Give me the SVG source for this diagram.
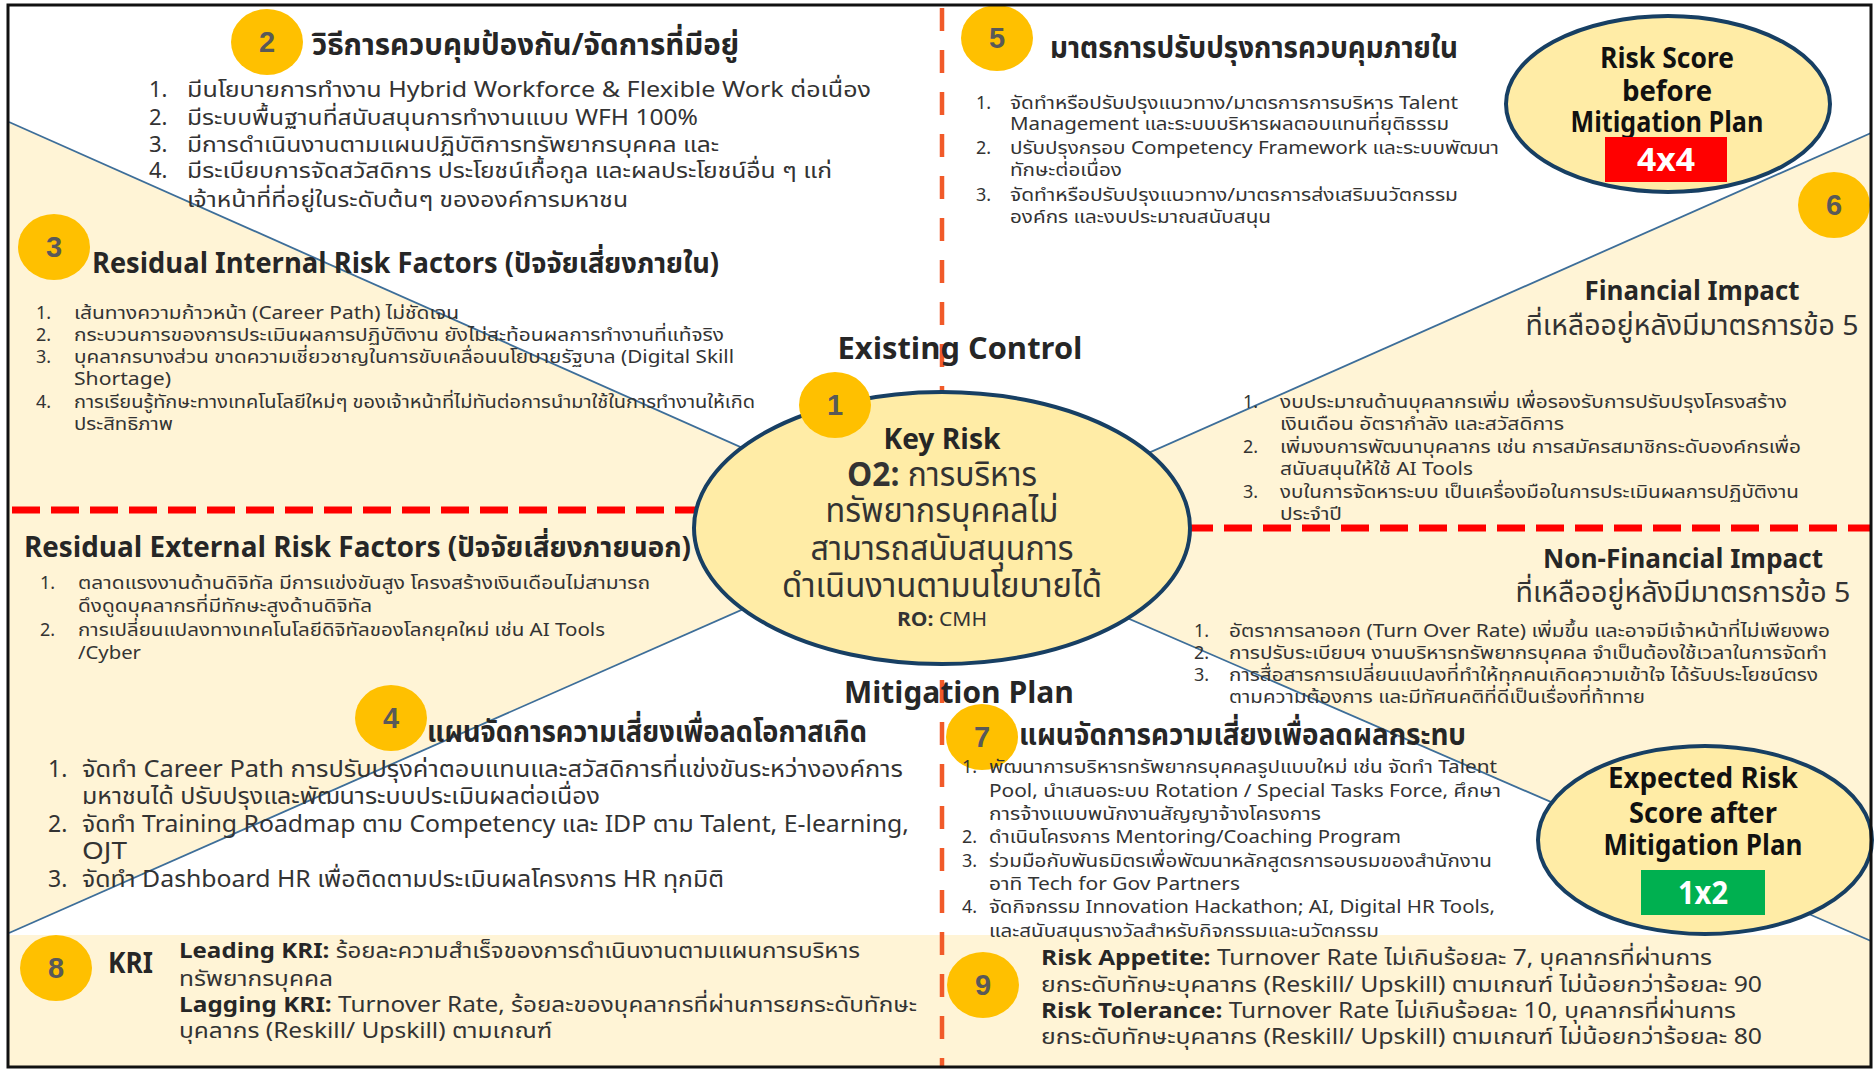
<svg xmlns="http://www.w3.org/2000/svg" width="1875" height="1070" viewBox="0 0 1875 1070">
<defs>
<style>
text{font-family:"Noto Sans Thai","Noto Sans","Liberation Sans",sans-serif;fill:#333333}
.b{font-weight:bold}
.h{font-weight:bold;fill:#262626}
.mid{text-anchor:middle}
.badge{fill:#FFC000}
.bn{font-family:"Liberation Sans Narrow","Liberation Sans",sans-serif;font-weight:bold;font-size:29px;fill:#595959;text-anchor:middle}
.s18{font-size:18px}
.s22{font-size:22px}
.s23{font-size:23px}
.h28{font-size:30px}
.bk{fill:#111111;font-weight:bold;text-anchor:middle;font-size:28px}
.wt{fill:#ffffff;font-weight:bold;text-anchor:middle;font-size:32px}
.diag{stroke:#3D6E99;stroke-width:1.8;fill:none}
.vdash{stroke:#F15A29;stroke-width:4.5;stroke-dasharray:23 19;fill:none}
.hdash{stroke:#FF0000;stroke-width:7;stroke-dasharray:28 11;fill:none}
.circ{fill:#FFECA6;stroke:#173F63;stroke-width:4}
</style>
</defs>
<rect x="0" y="0" width="1875" height="1070" fill="#ffffff"/>
<g id="background">
<polygon points="9,122 943,537 943,521 9,933" fill="#FFF4D6"/>
<polygon points="1871,133 943,544 943,538 1871,941" fill="#FFF4D6"/>
<rect x="9" y="935" width="1862" height="133" fill="#FFF4D6"/>
</g>
<g id="connectors">
<line class="diag" x1="9" y1="122" x2="943" y2="537"/>
<line class="diag" x1="1871" y1="133" x2="943" y2="544"/>
<line class="diag" x1="9" y1="933" x2="943" y2="521"/>
<line class="diag" x1="943" y1="538" x2="1871" y2="941"/>
<line class="vdash" x1="942" y1="8" x2="942" y2="1068"/>
<line class="hdash" x1="12" y1="510" x2="700" y2="510"/>
<line class="hdash" x1="1185" y1="528" x2="1870" y2="528"/>
</g>
<g id="node1">
<ellipse class="circ" cx="942" cy="528" rx="248" ry="136"/>
<ellipse class="badge" cx="835" cy="405" rx="36" ry="33"/>
<text class="bn" x="835" y="415">1</text>
<text class="h mid" x="942" y="449" font-size="29" textLength="117" lengthAdjust="spacingAndGlyphs">Key Risk</text>
<text class="mid" x="942" y="486" font-size="34" fill="#222" textLength="190" lengthAdjust="spacingAndGlyphs"><tspan font-weight="bold">O2:</tspan> การบริหาร</text>
<text class="mid" x="942" y="522" font-size="34" textLength="233" lengthAdjust="spacingAndGlyphs">ทรัพยากรบุคคลไม่</text>
<text class="mid" x="942" y="560" font-size="34" textLength="263" lengthAdjust="spacingAndGlyphs">สามารถสนับสนุนการ</text>
<text class="mid" x="942" y="597" font-size="34" textLength="320" lengthAdjust="spacingAndGlyphs">ดำเนินงานตามนโยบายได้</text>
<text class="mid" x="942" y="626" font-size="20" fill="#404040" textLength="90" lengthAdjust="spacingAndGlyphs"><tspan font-weight="bold">RO:</tspan> CMH</text>
</g>
<g id="label-existing">
<text class="h mid" x="960" y="359" font-size="31" textLength="245" lengthAdjust="spacingAndGlyphs">Existing Control</text>
</g>
<g id="label-mitigation">
<text class="h mid" x="959" y="703" font-size="31" textLength="230" lengthAdjust="spacingAndGlyphs">Mitigation Plan</text>
</g>
<g id="node2">
<ellipse class="badge" cx="267" cy="42" rx="36" ry="33"/>
<text class="bn" x="267" y="52">2</text>
<text class="h h28" x="312" y="55" textLength="427" lengthAdjust="spacingAndGlyphs">วิธีการควบคุมป้องกัน/จัดการที่มีอยู่</text>
<g class="s22">
<text x="149" y="97">1.</text><text x="187" y="97" textLength="684" lengthAdjust="spacingAndGlyphs">มีนโยบายการทำงาน Hybrid Workforce &amp; Flexible Work ต่อเนื่อง</text>
<text x="149" y="125">2.</text><text x="187" y="125" textLength="511" lengthAdjust="spacingAndGlyphs">มีระบบพื้นฐานที่สนับสนุนการทำงานแบบ WFH 100%</text>
<text x="149" y="152">3.</text><text x="187" y="152" textLength="532" lengthAdjust="spacingAndGlyphs">มีการดำเนินงานตามแผนปฏิบัติการทรัพยากรบุคคล และ</text>
<text x="149" y="178">4.</text><text x="187" y="178" textLength="645" lengthAdjust="spacingAndGlyphs">มีระเบียบการจัดสวัสดิการ ประโยชน์เกื้อกูล และผลประโยชน์อื่น ๆ แก่</text>
<text x="187" y="207" textLength="441" lengthAdjust="spacingAndGlyphs">เจ้าหน้าที่ที่อยู่ในระดับต้นๆ ขององค์การมหาชน</text>
</g>
</g>
<g id="node3">
<ellipse class="badge" cx="54" cy="247" rx="36" ry="33"/>
<text class="bn" x="54" y="257">3</text>
<text class="h" x="92" y="273" font-size="28" textLength="627" lengthAdjust="spacingAndGlyphs">Residual Internal Risk Factors (ปัจจัยเสี่ยงภายใน)</text>
<g class="s18">
<text x="36" y="319">1.</text><text x="74" y="319" textLength="385" lengthAdjust="spacingAndGlyphs">เส้นทางความก้าวหน้า (Career Path) ไม่ชัดเจน</text>
<text x="36" y="341">2.</text><text x="74" y="341" textLength="650" lengthAdjust="spacingAndGlyphs">กระบวนการของการประเมินผลการปฏิบัติงาน ยังไม่สะท้อนผลการทำงานที่แท้จริง</text>
<text x="36" y="363">3.</text><text x="74" y="363" textLength="660" lengthAdjust="spacingAndGlyphs">บุคลากรบางส่วน ขาดความเชี่ยวชาญในการขับเคลื่อนนโยบายรัฐบาล (Digital Skill</text>
<text x="74" y="385" textLength="97" lengthAdjust="spacingAndGlyphs">Shortage)</text>
<text x="36" y="408">4.</text><text x="74" y="408" textLength="681" lengthAdjust="spacingAndGlyphs">การเรียนรู้ทักษะทางเทคโนโลยีใหม่ๆ ของเจ้าหน้าที่ไม่ทันต่อการนำมาใช้ในการทำงานให้เกิด</text>
<text x="74" y="430" textLength="99" lengthAdjust="spacingAndGlyphs">ประสิทธิภาพ</text>
</g>
</g>
<g id="node-external">
<text class="h" x="24" y="557" font-size="28" textLength="667" lengthAdjust="spacingAndGlyphs">Residual External Risk Factors (ปัจจัยเสี่ยงภายนอก)</text>
<g class="s18">
<text x="40" y="589">1.</text><text x="78" y="589" textLength="572" lengthAdjust="spacingAndGlyphs">ตลาดแรงงานด้านดิจิทัล มีการแข่งขันสูง โครงสร้างเงินเดือนไม่สามารถ</text>
<text x="78" y="612" textLength="294" lengthAdjust="spacingAndGlyphs">ดึงดูดบุคลากรที่มีทักษะสูงด้านดิจิทัล</text>
<text x="40" y="636">2.</text><text x="78" y="636" textLength="527" lengthAdjust="spacingAndGlyphs">การเปลี่ยนแปลงทางเทคโนโลยีดิจิทัลของโลกยุคใหม่ เช่น AI Tools</text>
<text x="78" y="659" textLength="63" lengthAdjust="spacingAndGlyphs">/Cyber</text>
</g>
</g>
<g id="node4">
<ellipse class="badge" cx="391" cy="718" rx="36" ry="33"/>
<text class="bn" x="391" y="728">4</text>
<text class="h h28" x="427" y="742" textLength="440" lengthAdjust="spacingAndGlyphs">แผนจัดการความเสี่ยงเพื่อลดโอกาสเกิด</text>
<g class="s23">
<text x="48" y="777">1.</text><text x="82" y="777" textLength="821" lengthAdjust="spacingAndGlyphs">จัดทำ Career Path การปรับปรุงค่าตอบแทนและสวัสดิการที่แข่งขันระหว่างองค์การ</text>
<text x="82" y="804" textLength="518" lengthAdjust="spacingAndGlyphs">มหาชนได้ ปรับปรุงและพัฒนาระบบประเมินผลต่อเนื่อง</text>
<text x="48" y="832">2.</text><text x="82" y="832" textLength="827" lengthAdjust="spacingAndGlyphs">จัดทำ Training Roadmap ตาม Competency และ IDP ตาม Talent, E-learning,</text>
<text x="82" y="859" textLength="45" lengthAdjust="spacingAndGlyphs">OJT</text>
<text x="48" y="887">3.</text><text x="82" y="887" textLength="642" lengthAdjust="spacingAndGlyphs">จัดทำ Dashboard HR เพื่อติดตามประเมินผลโครงการ HR ทุกมิติ</text>
</g>
</g>
<g id="node5">
<ellipse class="badge" cx="997" cy="38" rx="36" ry="33"/>
<text class="bn" x="997" y="48">5</text>
<text class="h h28" x="1050" y="58" textLength="408" lengthAdjust="spacingAndGlyphs">มาตรการปรับปรุงการควบคุมภายใน</text>
<g class="s18">
<text x="976" y="109">1.</text><text x="1010" y="109" textLength="448" lengthAdjust="spacingAndGlyphs">จัดทำหรือปรับปรุงแนวทาง/มาตรการการบริหาร Talent</text>
<text x="1010" y="130" textLength="439" lengthAdjust="spacingAndGlyphs">Management และระบบบริหารผลตอบแทนที่ยุติธรรม</text>
<text x="976" y="154">2.</text><text x="1010" y="154" textLength="489" lengthAdjust="spacingAndGlyphs">ปรับปรุงกรอบ Competency Framework และระบบพัฒนา</text>
<text x="1010" y="176" textLength="112" lengthAdjust="spacingAndGlyphs">ทักษะต่อเนื่อง</text>
<text x="976" y="201">3.</text><text x="1010" y="201" textLength="448" lengthAdjust="spacingAndGlyphs">จัดทำหรือปรับปรุงแนวทาง/มาตรการส่งเสริมนวัตกรรม</text>
<text x="1010" y="223" textLength="261" lengthAdjust="spacingAndGlyphs">องค์กร และงบประมาณสนับสนุน</text>
</g>
</g>
<g id="score-before">
<ellipse class="circ" cx="1668" cy="104" rx="162" ry="88"/>
<text class="bk" x="1667" y="68" textLength="134" lengthAdjust="spacingAndGlyphs">Risk Score</text>
<text class="bk" x="1667" y="101" textLength="90" lengthAdjust="spacingAndGlyphs">before</text>
<text class="bk" x="1667" y="132" textLength="193" lengthAdjust="spacingAndGlyphs">Mitigation Plan</text>
<rect x="1605" y="137" width="122" height="45" fill="#FF0000"/>
<text class="wt" x="1666" y="171" textLength="58" lengthAdjust="spacingAndGlyphs">4x4</text>
</g>
<g id="node6">
<ellipse class="badge" cx="1834" cy="205" rx="36" ry="33"/>
<text class="bn" x="1834" y="215">6</text>
<text class="h mid" x="1692" y="300" font-size="27" textLength="215" lengthAdjust="spacingAndGlyphs">Financial Impact</text>
<text class="mid" x="1692" y="335" font-size="28" textLength="333" lengthAdjust="spacingAndGlyphs">ที่เหลืออยู่หลังมีมาตรการข้อ 5</text>
<g class="s18">
<text x="1243" y="408">1.</text><text x="1280" y="408" textLength="507" lengthAdjust="spacingAndGlyphs">งบประมาณด้านบุคลากรเพิ่ม เพื่อรองรับการปรับปรุงโครงสร้าง</text>
<text x="1280" y="430" textLength="284" lengthAdjust="spacingAndGlyphs">เงินเดือน อัตรากำลัง และสวัสดิการ</text>
<text x="1243" y="453">2.</text><text x="1280" y="453" textLength="521" lengthAdjust="spacingAndGlyphs">เพิ่มงบการพัฒนาบุคลากร เช่น การสมัครสมาชิกระดับองค์กรเพื่อ</text>
<text x="1280" y="475" textLength="193" lengthAdjust="spacingAndGlyphs">สนับสนุนให้ใช้ AI Tools</text>
<text x="1243" y="498">3.</text><text x="1280" y="498" textLength="519" lengthAdjust="spacingAndGlyphs">งบในการจัดหาระบบ เป็นเครื่องมือในการประเมินผลการปฏิบัติงาน</text>
<text x="1280" y="520" textLength="62" lengthAdjust="spacingAndGlyphs">ประจำปี</text>
</g>
<text class="h mid" x="1683" y="568" font-size="27" textLength="280" lengthAdjust="spacingAndGlyphs">Non-Financial Impact</text>
<text class="mid" x="1683" y="602" font-size="28" textLength="335" lengthAdjust="spacingAndGlyphs">ที่เหลืออยู่หลังมีมาตรการข้อ 5</text>
<g class="s18">
<text x="1194" y="637">1.</text><text x="1229" y="637" textLength="601" lengthAdjust="spacingAndGlyphs">อัตราการลาออก (Turn Over Rate) เพิ่มขึ้น และอาจมีเจ้าหน้าที่ไม่เพียงพอ</text>
<text x="1194" y="659">2.</text><text x="1229" y="659" textLength="598" lengthAdjust="spacingAndGlyphs">การปรับระเบียบฯ งานบริหารทรัพยากรบุคคล จำเป็นต้องใช้เวลาในการจัดทำ</text>
<text x="1194" y="681">3.</text><text x="1229" y="681" textLength="589" lengthAdjust="spacingAndGlyphs">การสื่อสารการเปลี่ยนแปลงที่ทำให้ทุกคนเกิดความเข้าใจ ได้รับประโยชน์ตรง</text>
<text x="1229" y="703" textLength="416" lengthAdjust="spacingAndGlyphs">ตามความต้องการ และมีทัศนคติที่ดีเป็นเรื่องที่ท้าทาย</text>
</g>
</g>
<g id="node7">
<ellipse class="badge" cx="982" cy="737" rx="36" ry="33"/>
<text class="bn" x="982" y="747">7</text>
<text class="h h28" x="1019" y="745" textLength="447" lengthAdjust="spacingAndGlyphs">แผนจัดการความเสี่ยงเพื่อลดผลกระทบ</text>
<g class="s18">
<text x="962" y="773">1.</text><text x="989" y="773" textLength="508" lengthAdjust="spacingAndGlyphs">พัฒนาการบริหารทรัพยากรบุคคลรูปแบบใหม่ เช่น จัดทำ Talent</text>
<text x="989" y="797" textLength="512" lengthAdjust="spacingAndGlyphs">Pool, นำเสนอระบบ Rotation / Special Tasks Force, ศึกษา</text>
<text x="989" y="820" textLength="332" lengthAdjust="spacingAndGlyphs">การจ้างแบบพนักงานสัญญาจ้างโครงการ</text>
<text x="962" y="843">2.</text><text x="989" y="843" textLength="412" lengthAdjust="spacingAndGlyphs">ดำเนินโครงการ Mentoring/Coaching Program</text>
<text x="962" y="867">3.</text><text x="989" y="867" textLength="503" lengthAdjust="spacingAndGlyphs">ร่วมมือกับพันธมิตรเพื่อพัฒนาหลักสูตรการอบรมของสำนักงาน</text>
<text x="989" y="890" textLength="251" lengthAdjust="spacingAndGlyphs">อาทิ Tech for Gov Partners</text>
<text x="962" y="913">4.</text><text x="989" y="913" textLength="506" lengthAdjust="spacingAndGlyphs">จัดกิจกรรม Innovation Hackathon; AI, Digital HR Tools,</text>
<text x="989" y="937" textLength="390" lengthAdjust="spacingAndGlyphs">และสนับสนุนรางวัลสำหรับกิจกรรมและนวัตกรรม</text>
</g>
</g>
<g id="score-after">
<ellipse class="circ" cx="1705" cy="840" rx="167" ry="94"/>
<text class="bk" x="1703" y="788" font-size="29" textLength="190" lengthAdjust="spacingAndGlyphs">Expected Risk</text>
<text class="bk" x="1703" y="823" font-size="29" textLength="148" lengthAdjust="spacingAndGlyphs">Score after</text>
<text class="bk" x="1703" y="855" font-size="29" textLength="199" lengthAdjust="spacingAndGlyphs">Mitigation Plan</text>
<rect x="1641" y="870" width="124" height="45" fill="#00B050"/>
<text class="wt" x="1703" y="904" textLength="50" lengthAdjust="spacingAndGlyphs">1x2</text>
</g>
<g id="node8">
<ellipse class="badge" cx="56" cy="968" rx="36" ry="33"/>
<text class="bn" x="56" y="978">8</text>
<text class="h" x="108" y="973" font-size="29" textLength="45" lengthAdjust="spacingAndGlyphs">KRI</text>
<g class="s22">
<text x="179" y="958" textLength="681" lengthAdjust="spacingAndGlyphs"><tspan class="h">Leading KRI:</tspan> ร้อยละความสำเร็จของการดำเนินงานตามแผนการบริหาร</text>
<text x="179" y="986" textLength="154" lengthAdjust="spacingAndGlyphs">ทรัพยากรบุคคล</text>
<text x="179" y="1012" textLength="738" lengthAdjust="spacingAndGlyphs"><tspan class="h">Lagging KRI:</tspan> Turnover Rate, ร้อยละของบุคลากรที่ผ่านการยกระดับทักษะ</text>
<text x="179" y="1038" textLength="373" lengthAdjust="spacingAndGlyphs">บุคลากร (Reskill/ Upskill) ตามเกณฑ์</text>
</g>
</g>
<g id="node9">
<ellipse class="badge" cx="983" cy="985" rx="36" ry="33"/>
<text class="bn" x="983" y="995">9</text>
<g class="s22">
<text x="1041" y="965" textLength="671" lengthAdjust="spacingAndGlyphs"><tspan class="h">Risk Appetite:</tspan> Turnover Rate ไม่เกินร้อยละ 7, บุคลากรที่ผ่านการ</text>
<text x="1041" y="992" textLength="721" lengthAdjust="spacingAndGlyphs">ยกระดับทักษะบุคลากร (Reskill/ Upskill) ตามเกณฑ์ ไม่น้อยกว่าร้อยละ 90</text>
<text x="1041" y="1018" textLength="695" lengthAdjust="spacingAndGlyphs"><tspan class="h">Risk Tolerance:</tspan> Turnover Rate ไม่เกินร้อยละ 10, บุคลากรที่ผ่านการ</text>
<text x="1041" y="1044" textLength="721" lengthAdjust="spacingAndGlyphs">ยกระดับทักษะบุคลากร (Reskill/ Upskill) ตามเกณฑ์ ไม่น้อยกว่าร้อยละ 80</text>
</g>
</g>
<rect x="8" y="5" width="1863" height="1062" fill="none" stroke="#111111" stroke-width="3"/>
</svg>
